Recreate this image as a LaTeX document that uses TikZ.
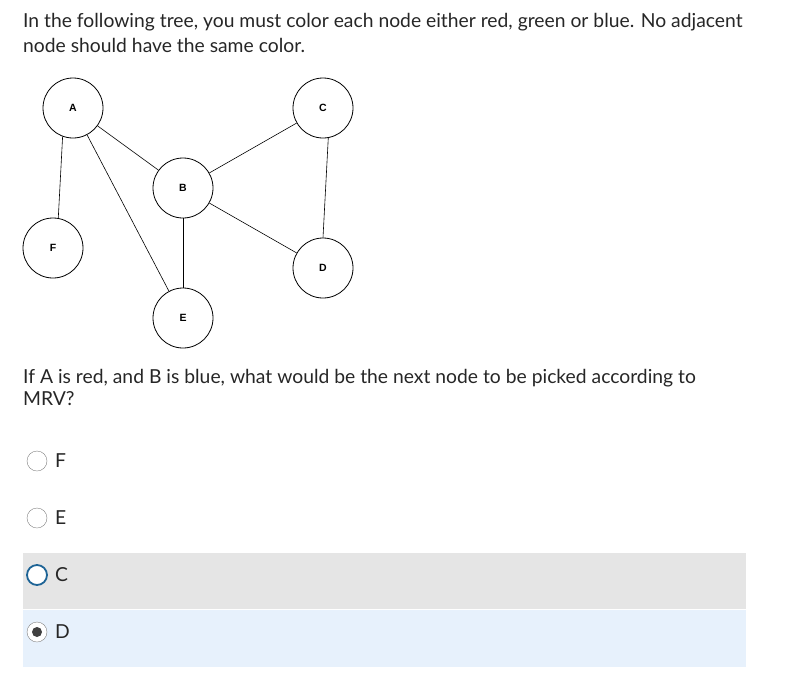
\documentclass[tikz,border=0pt]{standalone}
\usepackage{fontspec}
\setmainfont{Lato}
\newfontfamily\arialf{Liberation Sans}
\definecolor{bandblue}{RGB}{231,241,252}
\definecolor{bandgray}{RGB}{229,229,229}
\definecolor{selblue}{RGB}{30,100,150}
\begin{document}
\begin{tikzpicture}[x=1pt,y=-1pt,
  gn/.style={circle,draw,thick,minimum size=60pt,inner sep=0pt,font=\arialf\fontsize{10.5}{11}\selectfont\bfseries},
  txt/.style={anchor=west,inner sep=0pt,font=\fontsize{19.3}{23}\selectfont,text=black!85},
  radio/.style={circle,draw=gray,minimum size=20pt,inner sep=0pt,fill=white},
  edge/.style={semithick}]
\useasboundingbox (0,0) rectangle (799,686);
\fill[bandgray] (23,553) rectangle (746,609);
\fill[bandblue] (23,610) rectangle (746,667);
\node[txt] (t1) at (23,22) {In the following tree, you must color each node either red, green or blue. No adjacent};
\node[txt] (t2) at (23,45) {node should have the same color.};
\node[txt] (q1) at (23,378) {If A is red, and B is blue, what would be the next node to be picked according to};
\node[txt] (q2) at (23,399) {MRV?};
\node[gn] (A) at (73,108) {A};
\node[gn] (C) at (323,108) {C};
\node[gn] (B) at (183,188) {B};
\node[gn] (F) at (53,248) {F};
\node[gn] (D) at (323,268) {D};
\node[gn] (E) at (183,318) {E};
\draw[edge] (A.250) -- (F.80);
\draw[edge] (A) -- (B);
\draw[edge] (A) -- (E);
\draw[edge] (B) -- (C);
\draw[edge] (B) -- (E);
\draw[edge] (B) -- (D);
\draw[edge] (C.280) -- (D.90);
\node[radio] (rF) at (37,461) {};
\node[radio] (rE) at (37,518) {};
\node[radio,draw=selblue,line width=1.8pt] (rC) at (37,575) {};
\node[radio] (rD) at (37,632) {};
\fill[black!75] (rD) circle (5pt);
\node[txt] (lF) at (55,461) {F};
\node[txt] (lE) at (55,518) {E};
\node[txt] (lC) at (55,575) {C};
\node[txt] (lD) at (55,632) {D};
\end{tikzpicture}
\end{document}
